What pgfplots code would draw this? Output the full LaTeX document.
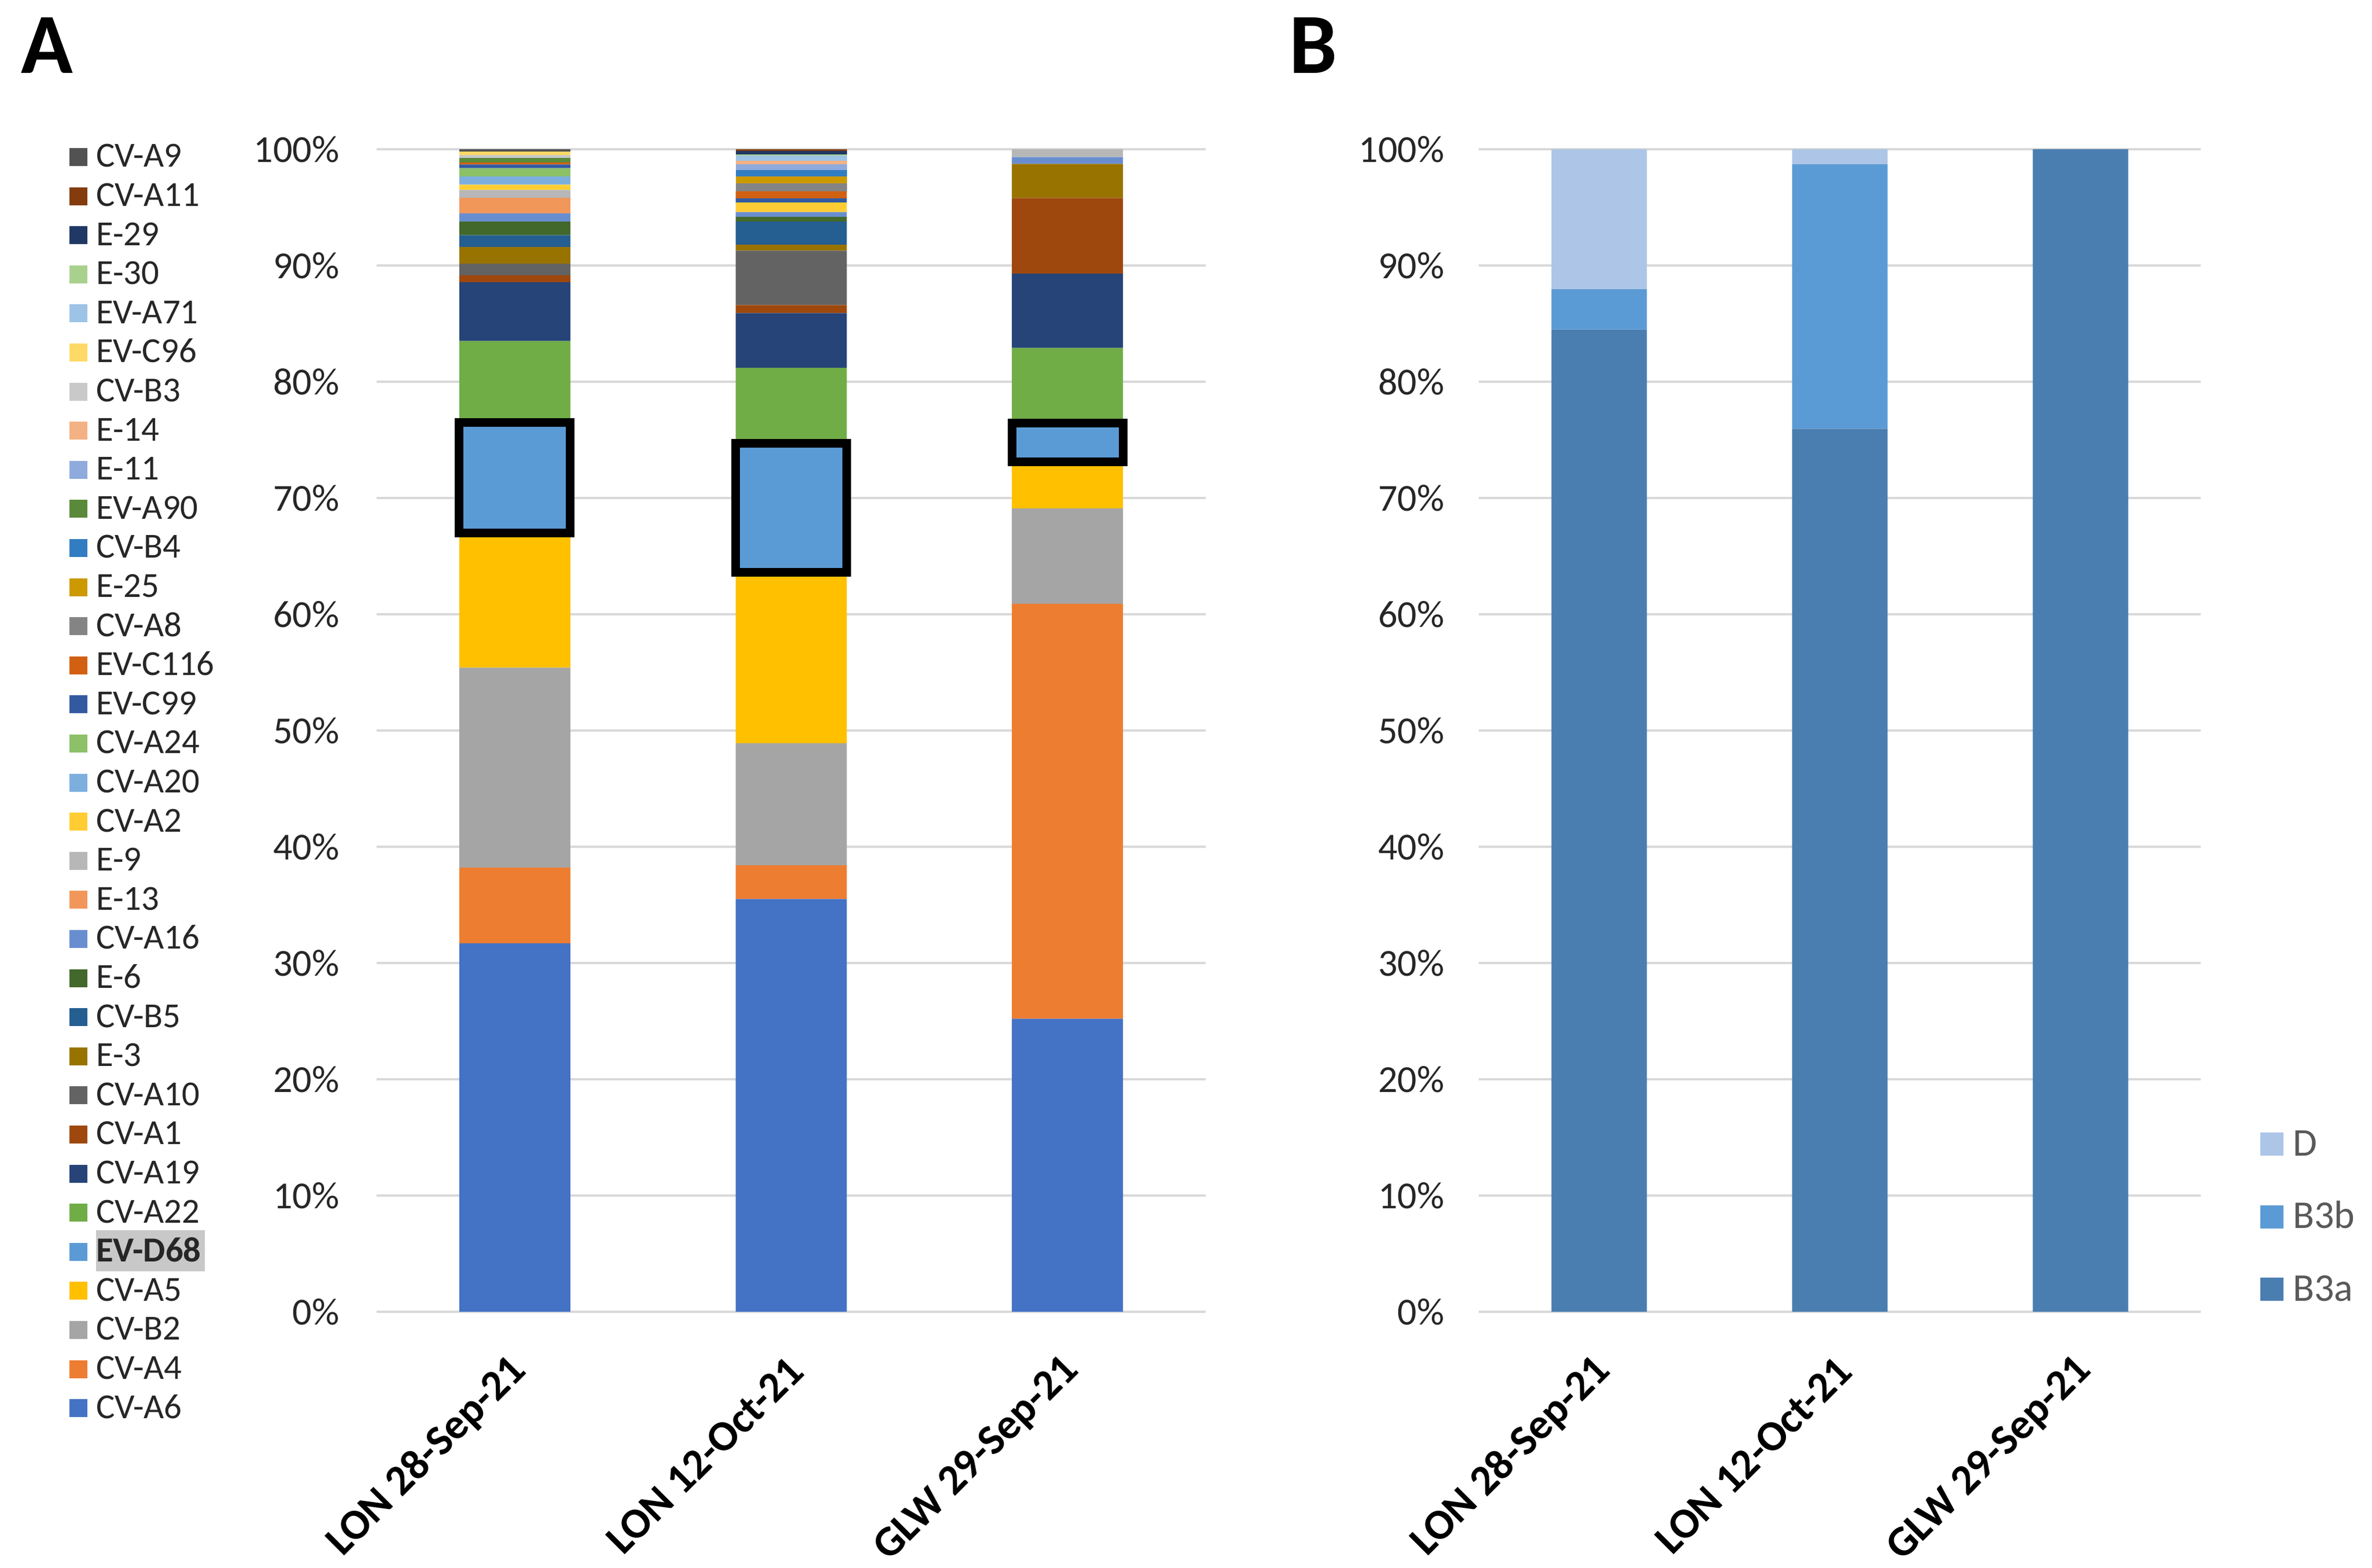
\documentclass[border=0pt]{standalone}
\usepackage{fontspec}
\setmainfont{Carlito}
\usepackage{pgfplots}
\usepackage{pgfplotstable}
\pgfplotsset{compat=1.18}

\definecolor{cCVA6}{HTML}{4472C4}
\definecolor{cCVA4}{HTML}{ED7D31}
\definecolor{cCVB2}{HTML}{A5A5A5}
\definecolor{cCVA5}{HTML}{FFC000}
\definecolor{cEVD68}{HTML}{5B9BD5}
\definecolor{cCVA22}{HTML}{70AD47}
\definecolor{cCVA19}{HTML}{264478}
\definecolor{cCVA1}{HTML}{9E480E}
\definecolor{cCVA10}{HTML}{636363}
\definecolor{cE3}{HTML}{997300}
\definecolor{cCVB5}{HTML}{255E91}
\definecolor{cE6}{HTML}{43682B}
\definecolor{cCVA16}{HTML}{698ED0}
\definecolor{cE13}{HTML}{F1975A}
\definecolor{cE9}{HTML}{B7B7B7}
\definecolor{cCVA2}{HTML}{FFCD33}
\definecolor{cCVA20}{HTML}{7CAFDD}
\definecolor{cCVA24}{HTML}{8CC168}
\definecolor{cEVC99}{HTML}{335AA1}
\definecolor{cEVC116}{HTML}{D26012}
\definecolor{cCVA8}{HTML}{848484}
\definecolor{cE25}{HTML}{CC9A00}
\definecolor{cCVB4}{HTML}{327DC2}
\definecolor{cEVA90}{HTML}{5A8A39}
\definecolor{cE11}{HTML}{8FAADC}
\definecolor{cE14}{HTML}{F4B183}
\definecolor{cCVB3}{HTML}{C9C9C9}
\definecolor{cEVC96}{HTML}{FFD966}
\definecolor{cEVA71}{HTML}{9DC3E6}
\definecolor{cE30}{HTML}{A9D18E}
\definecolor{cE29}{HTML}{1F3864}
\definecolor{cCVA11}{HTML}{843C0C}
\definecolor{cCVA9}{HTML}{525252}
\definecolor{cB3a}{HTML}{4A7EB0}
\definecolor{cB3b}{HTML}{5B9BD5}
\definecolor{cD}{HTML}{ADC5E6}
\definecolor{gridc}{HTML}{D9D9D9}
\definecolor{tickc}{HTML}{262626}
\definecolor{legAc}{HTML}{262626}
\definecolor{legBc}{HTML}{595959}
\definecolor{hl}{RGB}{200,200,200}

\pgfplotstableread{
x CVA6 CVA4 CVB2 CVA5 EVD68 CVA22 CVA19 CVA1 CVA10 E3 CVB5 E6 CVA16 E13 E9 CVA2 CVA20 CVA24 EVC99 EVC116 CVA8 E25 CVB4 EVA90 E11 E14 CVB3 EVC96 EVA71 E30 E29 CVA11 CVA9
0 31.7 6.5 17.2 11.6 9.5 7.0 5.06 0.6 1.0 1.42 1.02 1.17 0.71 1.32 0.7 0.45 0.71 0.71 0.32 0.17 0 0 0 0.38 0 0 0.25 0.33 0 0 0 0 0.18
1 35.5 2.9 10.5 14.7 11.1 6.5 4.7 0.7 4.67 0.51 1.99 0.41 0.42 0 0 0.82 0 0 0.35 0.61 0.7 0.58 0.55 0 0.5 0.28 0 0 0.45 0.13 0.3 0.13 0
2 25.2 35.7 8.2 4.0 3.35 6.45 6.4 6.5 0 2.94 0 0 0.58 0 0.68 0 0 0 0 0 0 0 0 0 0 0 0 0 0 0 0 0 0
}\dataA

\pgfplotstableread{
x B3a B3b D
0 84.5 3.45 12.05
1 75.95 22.75 1.3
2 100 0 0
}\dataB

\pgfplotsset{
  commonax/.style={
    scale only axis, height=502.5bp,
    ybar stacked,
    xmin=-0.5, xmax=2.5, ymin=0, ymax=100,
    enlargelimits=false,
    xtick={0,1,2},
    xticklabels={LON 28-Sep-21, LON 12-Oct-21, GLW 29-Sep-21},
    ytick={0,10,...,100},
    yticklabel={\pgfmathprintnumber{\tick}\%},
    /pgf/number format/assume math mode=true,
    axis line style={draw=none},
    major tick length=0pt,
    ymajorgrids,
    major grid style={draw=gridc, line width=1.1bp},
    yticklabel style={anchor=east, inner sep=0pt, font=\fontsize{16.5bp}{16.5bp}\selectfont, text=tickc},
    xticklabel style={xshift=2.25bp, yshift=-22.5bp, rotate=45, anchor=east, inner sep=0pt, font=\bfseries\fontsize{18.5bp}{18.5bp}\selectfont, text=black},
    reverse legend,
  },
}

\begin{document}
\begin{tikzpicture}
\begin{axis}[
  commonax,
  set layers,
  at={(162.75bp,110.75bp)}, anchor=south west,
  width=358.25bp,
  bar width=48bp,
  yticklabel style={xshift=-16bp},
  legend style={at={(-0.3706,1.00647)}, anchor=north west, draw=none, fill=none,
    inner sep=0pt, outer sep=0pt, row sep=0pt,
    font=\fontsize{15.2bp}{15.2bp}\selectfont, text=legAc,
    nodes={anchor=base west, text height=11bp, text depth=5.9bp, inner sep=0pt},
    /tikz/every odd column/.append style={column sep=3.8bp}},
  every axis plot post/.append style={legend image code/.code={\fill[##1, draw=none] (0bp,0.5bp) rectangle (7.75bp,8.25bp);}},
]
\addplot[fill=cCVA6, draw=none] table[x=x,y=CVA6]{\dataA}; \addlegendentry{CV-A6}
\addplot[fill=cCVA4, draw=none] table[x=x,y=CVA4]{\dataA}; \addlegendentry{CV-A4}
\addplot[fill=cCVB2, draw=none] table[x=x,y=CVB2]{\dataA}; \addlegendentry{CV-B2}
\addplot[fill=cCVA5, draw=none] table[x=x,y=CVA5]{\dataA}; \addlegendentry{CV-A5}
\addplot[fill=cEVD68, draw=black, line width=3.75bp, on layer=axis foreground] table[x=x,y=EVD68]{\dataA}; \addlegendentry{\fboxsep=0pt\colorbox{hl}{\rule[-4bp]{0pt}{17.75bp}\textbf{EV-D68}\kern1.5bp}}
\addplot[fill=cCVA22, draw=none] table[x=x,y=CVA22]{\dataA}; \addlegendentry{CV-A22}
\addplot[fill=cCVA19, draw=none] table[x=x,y=CVA19]{\dataA}; \addlegendentry{CV-A19}
\addplot[fill=cCVA1, draw=none] table[x=x,y=CVA1]{\dataA}; \addlegendentry{CV-A1}
\addplot[fill=cCVA10, draw=none] table[x=x,y=CVA10]{\dataA}; \addlegendentry{CV-A10}
\addplot[fill=cE3, draw=none] table[x=x,y=E3]{\dataA}; \addlegendentry{E-3}
\addplot[fill=cCVB5, draw=none] table[x=x,y=CVB5]{\dataA}; \addlegendentry{CV-B5}
\addplot[fill=cE6, draw=none] table[x=x,y=E6]{\dataA}; \addlegendentry{E-6}
\addplot[fill=cCVA16, draw=none] table[x=x,y=CVA16]{\dataA}; \addlegendentry{CV-A16}
\addplot[fill=cE13, draw=none] table[x=x,y=E13]{\dataA}; \addlegendentry{E-13}
\addplot[fill=cE9, draw=none] table[x=x,y=E9]{\dataA}; \addlegendentry{E-9}
\addplot[fill=cCVA2, draw=none] table[x=x,y=CVA2]{\dataA}; \addlegendentry{CV-A2}
\addplot[fill=cCVA20, draw=none] table[x=x,y=CVA20]{\dataA}; \addlegendentry{CV-A20}
\addplot[fill=cCVA24, draw=none] table[x=x,y=CVA24]{\dataA}; \addlegendentry{CV-A24}
\addplot[fill=cEVC99, draw=none] table[x=x,y=EVC99]{\dataA}; \addlegendentry{EV-C99}
\addplot[fill=cEVC116, draw=none] table[x=x,y=EVC116]{\dataA}; \addlegendentry{EV-C116}
\addplot[fill=cCVA8, draw=none] table[x=x,y=CVA8]{\dataA}; \addlegendentry{CV-A8}
\addplot[fill=cE25, draw=none] table[x=x,y=E25]{\dataA}; \addlegendentry{E-25}
\addplot[fill=cCVB4, draw=none] table[x=x,y=CVB4]{\dataA}; \addlegendentry{CV-B4}
\addplot[fill=cEVA90, draw=none] table[x=x,y=EVA90]{\dataA}; \addlegendentry{EV-A90}
\addplot[fill=cE11, draw=none] table[x=x,y=E11]{\dataA}; \addlegendentry{E-11}
\addplot[fill=cE14, draw=none] table[x=x,y=E14]{\dataA}; \addlegendentry{E-14}
\addplot[fill=cCVB3, draw=none] table[x=x,y=CVB3]{\dataA}; \addlegendentry{CV-B3}
\addplot[fill=cEVC96, draw=none] table[x=x,y=EVC96]{\dataA}; \addlegendentry{EV-C96}
\addplot[fill=cEVA71, draw=none] table[x=x,y=EVA71]{\dataA}; \addlegendentry{EV-A71}
\addplot[fill=cE30, draw=none] table[x=x,y=E30]{\dataA}; \addlegendentry{E-30}
\addplot[fill=cE29, draw=none] table[x=x,y=E29]{\dataA}; \addlegendentry{E-29}
\addplot[fill=cCVA11, draw=none] table[x=x,y=CVA11]{\dataA}; \addlegendentry{CV-A11}
\addplot[fill=cCVA9, draw=none] table[x=x,y=CVA9]{\dataA}; \addlegendentry{CV-A9}
\end{axis}

\begin{axis}[
  commonax,
  at={(639bp,110.75bp)}, anchor=south west,
  width=312bp,
  bar width=41.25bp,
  yticklabel style={xshift=-14.75bp},
  legend style={at={(1.08253,0.15821)}, anchor=north west, draw=none, fill=none,
    inner sep=0pt, outer sep=0pt, row sep=0pt,
    font=\fontsize{17bp}{17bp}\selectfont, text=legBc,
    nodes={anchor=base west, text height=12bp, text depth=19.4bp, inner sep=0pt},
    /tikz/every odd column/.append style={column sep=4bp}},
  every axis plot post/.append style={legend image code/.code={\fill[##1, draw=none] (0bp,0bp) rectangle (10bp,10bp);}},
]
\addplot[fill=cB3a, draw=none] table[x=x,y=B3a]{\dataB}; \addlegendentry{B3a}
\addplot[fill=cB3b, draw=none] table[x=x,y=B3b]{\dataB}; \addlegendentry{B3b}
\addplot[fill=cD, draw=none] table[x=x,y=D]{\dataB}; \addlegendentry{D}
\end{axis}

\node[anchor=base west, inner sep=0pt, font=\bfseries\fontsize{37bp}{37bp}\selectfont] at (9bp,646bp) {A};
\node[anchor=base west, inner sep=0pt, font=\bfseries\fontsize{37bp}{37bp}\selectfont] at (557bp,646bp) {B};
\pgfresetboundingbox
\path[use as bounding box] (0bp,0bp) rectangle (1025bp,677.75bp);
\end{tikzpicture}
\end{document}
